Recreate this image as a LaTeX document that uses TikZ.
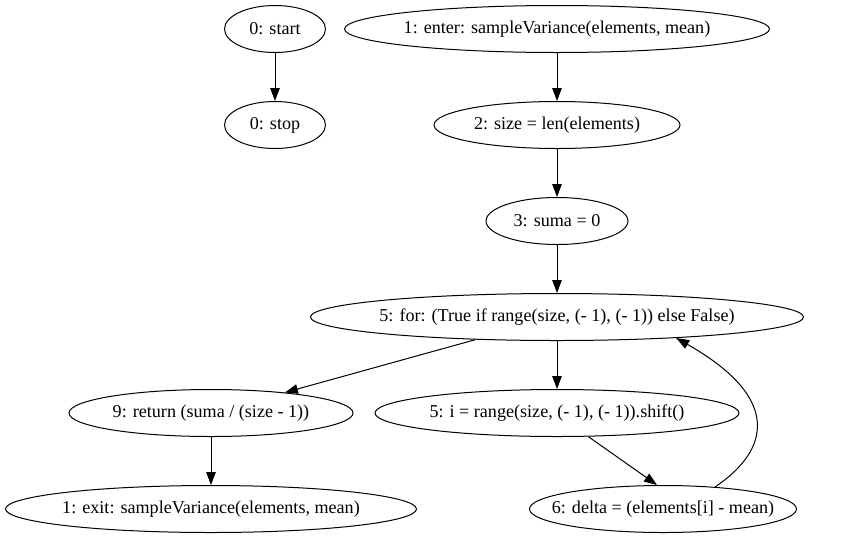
\documentclass[tikz,border=0pt]{standalone}
\usepackage{fontspec}
\setmainfont{Liberation Serif}
\usetikzlibrary{shapes.geometric,arrows.meta}
\begin{document}
\begin{tikzpicture}[x=1pt,y=-1pt,
  nd/.style={ellipse,draw,line width=1pt,inner sep=0pt,minimum height=47pt,font=\rmfamily\fontsize{18.1}{20}\selectfont},
  arr/.style={draw,line width=1pt,-{Triangle[length=13pt,width=9.5pt]}}]
\useasboundingbox (0,0) rectangle (851,539);
\node[nd,minimum width=101pt] (start) at (275,29) {\makebox[0pt]{0: start}};
\node[nd,minimum width=101pt] (stop) at (275,125) {\makebox[0pt]{0: stop}};
\node[nd,minimum width=425pt] (enter) at (557,29) {\makebox[0pt]{1: enter: sampleVariance(elements, mean)}};
\node[nd,minimum width=246pt] (size) at (557,125) {\makebox[0pt]{2: size = len(elements)}};
\node[nd,minimum width=142pt] (suma) at (557,221) {\makebox[0pt]{3: suma = 0}};
\node[nd,minimum width=493pt] (for) at (557,317) {\makebox[0pt]{5: for: (True if range(size, (- 1), (- 1)) else False)}};
\node[nd,minimum width=284pt] (ret) at (211,413) {\makebox[0pt]{9: return (suma / (size - 1))}};
\node[nd,minimum width=364pt] (i) at (557,413) {\makebox[0pt]{5: i = range(size, (- 1), (- 1)).shift()}};
\node[nd,minimum width=411pt] (exit) at (211,509) {\makebox[0pt]{1: exit: sampleVariance(elements, mean)}};
\node[nd,minimum width=267pt] (delta) at (663,509) {\makebox[0pt]{6: delta = (elements[i] - mean)}};
\draw[arr] (start) -- (stop);
\draw[arr] (enter) -- (size);
\draw[arr] (size) -- (suma);
\draw[arr] (suma) -- (for);
\draw[arr] (for) -- (ret);
\draw[arr] (for) -- (i);
\draw[arr] (ret) -- (exit);
\draw[arr] (i.-37) -- (delta.104);
\draw[arr] (delta.23) .. controls (770,450) and (782,398) .. (for.-10);
\end{tikzpicture}
\end{document}
